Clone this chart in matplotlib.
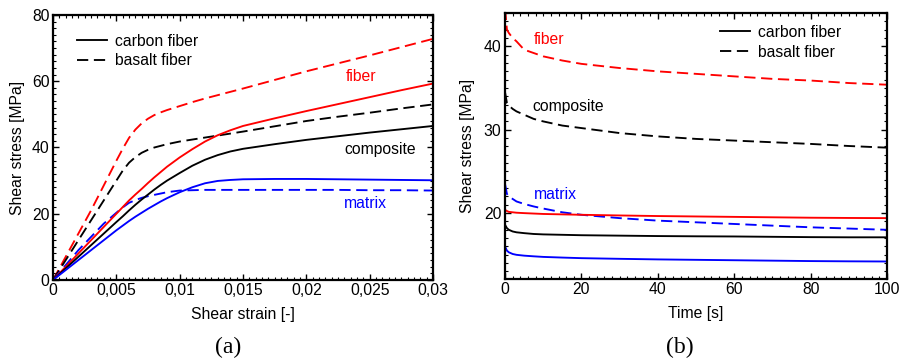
import matplotlib
matplotlib.use("Agg")
import matplotlib.pyplot as plt
from matplotlib.lines import Line2D
from matplotlib.ticker import MultipleLocator

plt.rcParams['font.family'] = ['Liberation Sans', 'DejaVu Sans']
FS = 11.3

# ---------------- data: (a) shear stress vs shear strain ----------------
strain = [0, 0.001, 0.002, 0.003, 0.004, 0.005, 0.0055, 0.006, 0.0065, 0.007, 0.0075,
          0.008, 0.0085, 0.009, 0.010, 0.011, 0.012, 0.013, 0.014, 0.015, 0.0175, 0.020,
          0.0225, 0.025, 0.0275, 0.030]
fiber_basalt = [0, 7, 14, 21, 28.5, 36, 39.6, 42.9, 45.4, 47.3, 48.7,
                49.8, 50.6, 51.3, 52.5, 53.7, 54.8, 55.8, 56.8, 57.8, 60.4, 63,
                65.4, 67.8, 70.3, 72.8]
fiber_carbon = [0, 4, 8, 12, 16, 20, 22, 24, 25.8, 27.5, 29.3,
                31, 32.6, 34.2, 37, 39.5, 41.8, 43.7, 45.2, 46.5, 48.8, 51,
                53.1, 55.2, 57.3, 59.3]
comp_basalt = [0, 6, 12, 18, 24, 30, 33, 35.4, 37.1, 38.4, 39.3,
               40, 40.5, 41, 41.8, 42.4, 43, 43.6, 44.2, 44.8, 46.4, 48,
               49.3, 50.5, 51.8, 53]
comp_carbon = [0, 3.5, 7, 10.5, 14, 17.5, 19.2, 21, 22.7, 24.3, 25.8,
               27.3, 28.7, 30, 32.3, 34.5, 36.3, 37.7, 38.8, 39.6, 41, 42.3,
               43.4, 44.5, 45.5, 46.5]
matrix_basalt = [0, 4.5, 9, 13, 17, 20.3, 21.9, 23.3, 24.1, 24.8, 25.3,
                 25.7, 26.1, 26.5, 27.0, 27.1, 27.2, 27.2, 27.2, 27.2, 27.2, 27.2,
                 27.2, 27.1, 27.1, 27.0]
matrix_carbon = [0, 3, 6, 9, 12, 15, 16.4, 17.8, 19.1, 20.3, 21.5,
                 22.6, 23.7, 24.7, 26.5, 28, 29.2, 29.9, 30.2, 30.4, 30.5, 30.5,
                 30.4, 30.3, 30.2, 30.1]
strain_ticks = [0, 0.005, 0.01, 0.015, 0.02, 0.025, 0.03]
strain_ticklabels = ["0", "0,005", "0,01", "0,015", "0,02", "0,025", "0,03"]
stress_ticks_a = [0, 20, 40, 60, 80]

# ---------------- data: (b) shear stress vs time ----------------
time = [0, 0.5, 1, 2, 3, 5, 7.5, 10, 15, 20, 30, 40, 50, 60, 70, 80, 90, 100]
relax_fiber_basalt = [44.5, 42, 41.6, 41, 40.6, 39.6, 39.2, 38.8, 38.3, 37.9, 37.4,
                      37.0, 36.7, 36.4, 36.1, 35.9, 35.6, 35.4]
relax_fiber_carbon = [20.4, 20.25, 20.15, 20.1, 20.05, 20.0, 19.95, 19.9, 19.85, 19.8,
                      19.72, 19.65, 19.6, 19.55, 19.5, 19.45, 19.42, 19.4]
relax_comp_basalt = [34.5, 33.2, 32.9, 32.5, 32.2, 31.8, 31.3, 31.0, 30.5, 30.2, 29.6,
                     29.2, 28.9, 28.7, 28.5, 28.3, 28.05, 27.85]
relax_comp_carbon = [18.6, 18.2, 18.0, 17.8, 17.7, 17.6, 17.5, 17.45, 17.4, 17.35, 17.3,
                     17.25, 17.22, 17.2, 17.16, 17.12, 17.1, 17.1]
relax_matrix_basalt = [23.5, 22.3, 22.0, 21.7, 21.4, 21.1, 20.8, 20.55, 20.1, 19.8, 19.4,
                       19.1, 18.9, 18.7, 18.5, 18.3, 18.15, 18.0]
relax_matrix_carbon = [16.0, 15.5, 15.3, 15.1, 15.0, 14.9, 14.82, 14.75, 14.67, 14.6, 14.52,
                       14.45, 14.4, 14.35, 14.3, 14.25, 14.22, 14.2]
time_ticks = [0, 20, 40, 60, 80, 100]
stress_ticks_b = [20, 30, 40]

LW = 1.35
DASH = (6, 3)

fig = plt.figure(figsize=(9.02, 3.63), dpi=100)
axa = fig.add_axes([0.0588, 0.2287, 0.4213, 0.7300])
axb = fig.add_axes([0.5599, 0.2314, 0.4235, 0.7328])


def style(ax):
    for s in ax.spines.values():
        s.set_linewidth(1.6)
    ax.tick_params(which='both', direction='in', top=True, right=True,
                   labelsize=FS, pad=2.5)
    ax.tick_params(which='major', length=4.2, width=1.0)
    ax.tick_params(which='minor', length=2.3, width=0.8)


# (a)
axa.plot(strain, fiber_basalt, color='red', lw=LW, dashes=DASH)
axa.plot(strain, comp_basalt, color='black', lw=LW, dashes=DASH)
axa.plot(strain, matrix_basalt, color='blue', lw=LW, dashes=DASH)
axa.plot(strain, fiber_carbon, color='red', lw=LW)
axa.plot(strain, comp_carbon, color='black', lw=LW)
axa.plot(strain, matrix_carbon, color='blue', lw=LW)
axa.set_xlim(0, 0.03)
axa.set_ylim(0, 80)
axa.set_xticks(strain_ticks, strain_ticklabels)
axa.set_yticks(stress_ticks_a)
axa.xaxis.set_minor_locator(MultipleLocator(0.0005))
axa.yaxis.set_minor_locator(MultipleLocator(2))
style(axa)
axa.set_xlabel("Shear strain [-]", fontsize=FS, labelpad=6)
axa.set_ylabel("Shear stress [MPa]", fontsize=FS, labelpad=5)
axa.text(0.0243, 61.3, "fiber", color='red', fontsize=FS, ha='center', va='center')
axa.text(0.0258, 39.5, "composite", color='black', fontsize=FS, ha='center', va='center')
axa.text(0.0247, 23.0, "matrix", color='blue', fontsize=FS, ha='center', va='center')

handles = [Line2D([], [], color='black', lw=LW),
           Line2D([], [], color='black', lw=LW, dashes=DASH)]
labels = ["carbon fiber", "basalt fiber"]
axa.legend(handles, labels, loc='upper left', bbox_to_anchor=(0.063, 0.93),
           frameon=False, fontsize=FS, borderpad=0, borderaxespad=0,
           handlelength=1.9, handletextpad=0.5, labelspacing=0.3)

# (b)
axb.plot(time, relax_fiber_basalt, color='red', lw=LW, dashes=DASH)
axb.plot(time, relax_comp_basalt, color='black', lw=LW, dashes=DASH)
axb.plot(time, relax_matrix_basalt, color='blue', lw=LW, dashes=DASH)
axb.plot(time, relax_fiber_carbon, color='red', lw=LW)
axb.plot(time, relax_comp_carbon, color='black', lw=LW)
axb.plot(time, relax_matrix_carbon, color='blue', lw=LW)
axb.set_xlim(0, 100)
axb.set_ylim(12.1, 44)
axb.set_xticks(time_ticks)
axb.set_yticks(stress_ticks_b)
axb.xaxis.set_minor_locator(MultipleLocator(2))
axb.yaxis.set_minor_locator(MultipleLocator(1))
style(axb)
axb.set_xlabel("Time [s]", fontsize=FS, labelpad=6)
axb.set_ylabel("Shear stress [MPa]", fontsize=FS, labelpad=6)
axb.text(11.5, 40.8, "fiber", color='red', fontsize=FS, ha='center', va='center')
axb.text(16.5, 32.8, "composite", color='black', fontsize=FS, ha='center', va='center')
axb.text(13.3, 22.2, "matrix", color='blue', fontsize=FS, ha='center', va='center')
axb.legend(handles, labels, loc='upper left', bbox_to_anchor=(0.563, 0.955),
           frameon=False, fontsize=FS, borderpad=0, borderaxespad=0,
           handlelength=1.9, handletextpad=0.5, labelspacing=0.3)

fig.text(0.2528, 0.044, "(a)", fontsize=17, family=['Liberation Serif', 'DejaVu Serif'],
         ha='center', va='center')
fig.text(0.7539, 0.044, "(b)", fontsize=17, family=['Liberation Serif', 'DejaVu Serif'],
         ha='center', va='center')

fig.savefig("out.png", dpi=100)
